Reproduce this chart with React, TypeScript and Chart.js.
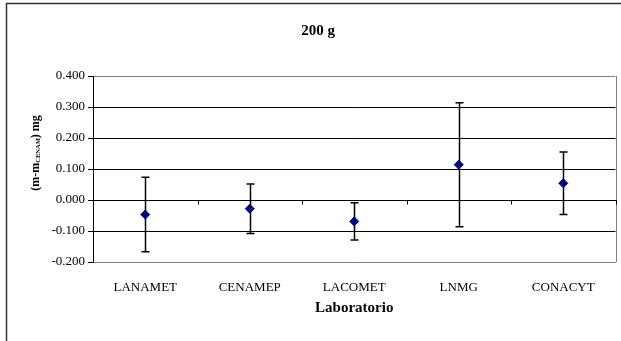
import React, { useEffect, useRef } from "react";
import { Chart, registerables } from "chart.js";

Chart.register(...registerables);

const categories = ["LANAMET", "CENAMEP", "LACOMET", "LNMG", "CONACYT"];
const means = [-0.047, -0.028, -0.069, 0.114, 0.054];
const uncertainties = [0.12, 0.08, 0.06, 0.2, 0.101];
const yTickLabels = ["-0.200", "-0.100", "0.000", "0.100", "0.200", "0.300", "0.400"];
const chartTitle = "200 g";
const xTitle = "Laboratorio";
const yTitleMain = "(m-m";
const yTitleSub = "CENAM";
const yTitleEnd = ") mg";

const SERIF = "'Liberation Serif', 'Times New Roman', serif";

const decorPlugin = {
  id: "decor",
  beforeDraw(chart: any) {
    const { ctx } = chart;
    ctx.save();
    ctx.strokeStyle = "#333333";
    ctx.lineWidth = 1.5;
    ctx.beginPath();
    ctx.moveTo(6.5, chart.height + 5);
    ctx.lineTo(6.5, 3.5);
    ctx.lineTo(chart.width + 5, 3.5);
    ctx.stroke();
    ctx.restore();
  },
  beforeDatasetsDraw(chart: any) {
    const { ctx, chartArea } = chart;
    const xs = chart.scales.x;
    const ys = chart.scales.y;
    ctx.save();
    // right border of plot area
    ctx.strokeStyle = "#808080";
    ctx.lineWidth = 1;
    ctx.beginPath();
    ctx.moveTo(Math.round(chartArea.right) + 0.5, chartArea.top);
    ctx.lineTo(Math.round(chartArea.right) + 0.5, chartArea.bottom);
    ctx.stroke();
    // category axis at zero with boundary ticks
    const y0 = Math.round(ys.getPixelForValue(0)) + 0.5;
    ctx.strokeStyle = "#000000";
    ctx.beginPath();
    ctx.moveTo(chartArea.left, y0);
    ctx.lineTo(chartArea.right + 1, y0);
    for (let i = 0; i <= categories.length; i++) {
      const x = Math.round(xs.getPixelForValue(i - 0.5)) + 0.5;
      ctx.moveTo(x, y0);
      ctx.lineTo(x, y0 + 4);
    }
    ctx.stroke();
    // error bars
    ctx.strokeStyle = "#000000";
    ctx.lineWidth = 1.5;
    for (let i = 0; i < means.length; i++) {
      const x = Math.round(xs.getPixelForValue(i)) + 0.5;
      const yt = ys.getPixelForValue(means[i] + uncertainties[i]);
      const yb = ys.getPixelForValue(means[i] - uncertainties[i]);
      ctx.beginPath();
      ctx.moveTo(x, yt);
      ctx.lineTo(x, yb);
      ctx.moveTo(x - 4, yt);
      ctx.lineTo(x + 4, yt);
      ctx.moveTo(x - 4, yb);
      ctx.lineTo(x + 4, yb);
      ctx.stroke();
    }
    ctx.restore();
  },
  afterDraw(chart: any) {
    const { ctx, chartArea } = chart;
    ctx.save();
    // chart title
    ctx.fillStyle = "#000000";
    ctx.font = `bold 15px ${SERIF}`;
    ctx.textAlign = "center";
    ctx.textBaseline = "middle";
    ctx.fillText(chartTitle, 318, 31);
    // y axis title with subscript
    const mainFont = `bold 12px ${SERIF}`;
    const subFont = `bold 6.5px ${SERIF}`;
    ctx.font = mainFont;
    const w1 = ctx.measureText(yTitleMain).width;
    const w3 = ctx.measureText(yTitleEnd).width;
    ctx.font = subFont;
    const w2 = ctx.measureText(yTitleSub).width;
    const total = w1 + w2 + w3;
    const cy = (chartArea.top + chartArea.bottom) / 2 - 16;
    ctx.translate(36, cy);
    ctx.rotate(-Math.PI / 2);
    ctx.textBaseline = "middle";
    ctx.textAlign = "left";
    let x = -total / 2;
    ctx.font = mainFont;
    ctx.fillText(yTitleMain, x, 0);
    x += w1;
    ctx.font = subFont;
    ctx.fillText(yTitleSub, x, 2);
    x += w2;
    ctx.font = mainFont;
    ctx.fillText(yTitleEnd, x, 0);
    ctx.restore();
  },
};

export default function App() {
  const ref = useRef<HTMLCanvasElement>(null);
  useEffect(() => {
    if (!ref.current) return;
    const chart = new Chart(ref.current, {
      type: "line",
      data: {
        labels: categories,
        datasets: [
          {
            data: means,
            showLine: false,
            pointStyle: "rectRot",
            pointRadius: 4.5,
            backgroundColor: "#000080",
            borderColor: "#000080",
            borderWidth: 1,
          },
        ],
      },
      options: {
        animation: false,
        responsive: false,
        devicePixelRatio: 1,
        layout: { padding: { left: 0, right: 4, top: 76, bottom: 0 } },
        plugins: {
          legend: { display: false },
          tooltip: { enabled: false },
          title: { display: false },
        },
        scales: {
          x: {
            type: "category",
            offset: true,
            grid: { display: false, drawTicks: false },
            border: { display: true, color: "#808080", width: 1 },
            ticks: {
              color: "#000000",
              font: { family: SERIF, size: 13 },
              padding: 18,
              maxRotation: 0,
              autoSkip: false,
            },
            title: {
              display: true,
              text: xTitle,
              color: "#000000",
              font: { family: SERIF, size: 15, weight: "bold" },
              padding: { top: 0, bottom: 24 },
            },
            afterFit(scale: any) {
              scale.height = 79;
            },
          },
          y: {
            min: -0.2,
            max: 0.4,
            ticks: {
              stepSize: 0.1,
              color: "#000000",
              font: { family: SERIF, size: 13 },
              padding: 3,
              callback: (_v: any, i: number) => yTickLabels[i],
            },
            grid: {
              color: (c: any) => {
                const v = c.tick ? c.tick.value : 0;
                return Math.abs(v - 0.4) < 1e-6 || Math.abs(v + 0.2) < 1e-6 ? "#808080" : "#000000";
              },
              tickColor: "#000000",
              tickLength: 5,
              lineWidth: 1,
            },
            border: { display: true, color: "#000000", width: 1 },
            afterFit(scale: any) {
              scale.width = 93;
            },
          },
        },
      },
      plugins: [decorPlugin],
    } as any);
    return () => chart.destroy();
  }, []);
  return (
    <div style={{ position: "absolute", left: 0, top: 0, width: 621, height: 341, overflow: "hidden", background: "#fff" }}>
      <canvas ref={ref} width={621} height={341} style={{ display: "block", width: 621, height: 341 }} />
    </div>
  );
}
